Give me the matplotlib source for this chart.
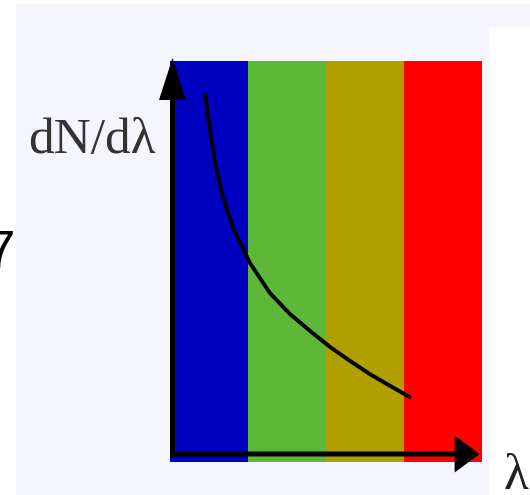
import matplotlib
matplotlib.use("Agg")
import matplotlib.pyplot as plt
from matplotlib.patches import Rectangle

# ---- data ----
band_names = ["blue", "green", "yellow", "red"]
band_colors = ["#0000C0", "#5DB83A", "#AF9F00", "#FF0000"]
band_left = [0, 1, 2, 3]
band_width = [1, 1, 1, 1]

curve_x = [0.449, 0.513, 0.577, 0.679, 0.808, 1.026, 1.282, 1.538, 1.795,
           2.051, 2.308, 2.564, 2.821, 3.090]
curve_y = [0.920, 0.828, 0.746, 0.661, 0.584, 0.496, 0.421, 0.369, 0.327,
           0.287, 0.252, 0.219, 0.190, 0.160]

y_label = "dN/dλ"
x_label = "λ"
edge_text = "7"

W, H = 530, 495
fig = plt.figure(figsize=(W / 100, H / 100), dpi=100, facecolor="white")

# light lavender background areas
bg = "#F5F6FD"
fig.patches.append(Rectangle((16 / W, 0), (488 - 16) / W, (H - 4) / H,
                             transform=fig.transFigure, color=bg, zorder=-5))
fig.patches.append(Rectangle((488 / W, (H - 26) / H), (W - 488) / W, 22 / H,
                             transform=fig.transFigure, color=bg, zorder=-5))

ax = fig.add_axes([170 / W, 1 - 462 / H, 312 / W, 401 / H])
ax.set_zorder(2)
ax.set_xlim(0, 4)
ax.set_ylim(0, 1)
ax.axis("off")

ax.bar(band_left, [1] * len(band_left), width=band_width, align="edge",
       color=band_colors, edgecolor="none", zorder=1)

ax.plot(curve_x, curve_y, color="black", lw=2.8, solid_capstyle="butt",
        solid_joinstyle="round", zorder=3)

# axes arrows (pixel scale: 78 px per x unit, 401 px per y unit)
ax.arrow(0.032, 0.01, 0, 1.0075 - 0.01, width=5 / 78, head_width=27 / 78,
         head_length=42 / 401, length_includes_head=True, color="black",
         clip_on=False, zorder=4, lw=0)
ax.arrow(0.0, 0.02, 3.97, 0, width=5 / 401, head_width=37 / 401,
         head_length=25 / 78, length_includes_head=True, color="black",
         clip_on=False, zorder=4, lw=0)

fig.text(28 / W, 1 - 153 / H, y_label, family="Liberation Serif", fontsize=37,
         color="#333333", ha="left", va="baseline")
fig.text(504 / W, 1 - 489 / H, x_label, family="Liberation Serif", fontsize=37,
         color="#222222", ha="left", va="baseline")
fig.text(15 / W, 1 - 268 / H, edge_text, family="Liberation Sans", fontsize=38,
         color="black", ha="right", va="baseline")

fig.savefig("out.png", dpi=100, facecolor="white")
